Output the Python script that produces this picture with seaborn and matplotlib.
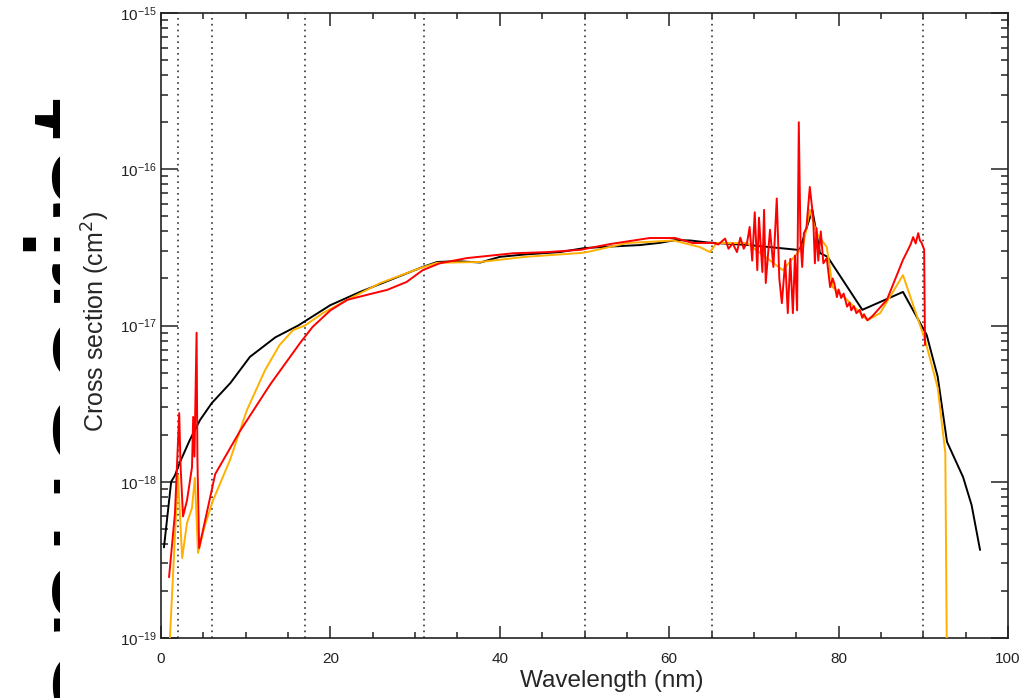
import numpy as np
import pandas as pd
import seaborn as sns
import matplotlib
matplotlib.use("Agg")
import matplotlib.pyplot as plt
from matplotlib.transforms import Bbox
from matplotlib.ticker import MultipleLocator, LogLocator

# --- data (cross sections in units of 1e-18 cm^2) ---
black_wl = [0.35, 1.2, 1.65, 2.2, 3.4, 4.6, 6.0, 8.2, 10.5, 13.5, 16.2, 20.0, 23.5,
            27.0, 30.9, 32.6, 35.0, 37.7, 40.0, 43.0, 47.1, 50.0, 53.0, 56.5, 58.9,
            60.7, 62.5, 64.5, 69.5, 75.4, 76.9, 77.8, 78.7, 82.8, 87.6, 90.4, 91.7,
            92.8, 94.7, 95.7, 96.7]
black_sigma = [0.38, 1.0, 1.1, 1.32, 1.85, 2.48, 3.19, 4.29, 6.3, 8.4, 10.0, 13.5, 16.4,
               19.5, 23.7, 25.5, 25.8, 25.3, 27.5, 28.5, 29.5, 31.3, 32.0, 32.7, 33.8,
               35.2, 35.0, 34.0, 32.7, 30.4, 55.0, 29.1, 27.5, 12.6, 16.4, 8.7, 4.7,
               1.8, 1.07, 0.71, 0.366]

orange_wl = [0.85, 2.0, 2.5, 3.07, 3.66, 4.0, 4.37, 5.2, 6.14, 8.15, 10.15, 12.3, 14.0,
             15.6, 17.0, 19.1, 22.0, 25.9, 30.6, 32.6, 37.7, 43.0, 49.5, 50.3, 55.0,
             60.5, 63.6, 64.8, 65.6, 69.2, 73.4, 75.8, 76.6, 77.4, 78.6, 79.3, 81.0,
             83.4, 84.9, 87.6, 90.2, 91.7, 92.6, 92.9]
orange_sigma = [0.06, 1.1, 0.325, 0.545, 0.68, 1.06, 0.35, 0.53, 0.76, 1.38, 2.88, 5.2,
                7.5, 9.35, 10.0, 12.0, 14.6, 18.7, 23.3, 25.2, 25.5, 27.5, 29.1, 29.5,
                33.7, 35.0, 31.8, 29.5, 33.7, 33.7, 22.6, 32.0, 55.0, 39.0, 31.8, 17.6,
                14.6, 10.8, 12.0, 21.0, 8.1, 4.0, 1.53, 0.01]

red_wl = [0.95, 1.65, 2.15, 2.3, 2.6, 3.07, 3.66, 3.8, 3.95, 4.2, 4.3, 4.5, 6.4, 9.3,
          12.9, 16.4, 17.9, 20.0, 22.0, 24.3, 26.7, 29.0, 30.9, 32.9, 36.1, 41.6, 45.6,
          49.5, 53.0, 57.7, 60.7, 62.8, 65.2, 65.8, 66.2, 66.6, 67.0, 67.5, 68.0, 68.4,
          68.8, 69.2, 69.5, 69.8, 70.1, 70.4, 70.6, 71.0, 71.2, 71.4, 71.9, 72.3, 72.7,
          73.0, 73.3, 73.7, 74.0, 74.3, 74.6, 74.85, 75.1, 75.3, 75.5, 75.7, 75.9, 76.2,
          76.6, 77.0, 77.2, 77.4, 77.6, 77.9, 78.2, 78.6, 79.0, 79.3, 79.5, 79.8, 80.0,
          80.3, 80.6, 81.0, 81.3, 81.5, 81.8, 82.1, 82.5, 82.8, 83.0, 83.4, 84.0, 85.7,
          87.6, 88.5, 88.8, 89.1, 89.4, 89.6, 89.8, 90.1, 90.2]
red_sigma = [0.245, 0.63, 2.75, 1.3, 0.6, 0.76, 1.24, 2.6, 1.45, 9.0, 1.4, 0.377, 1.12,
             2.1, 4.2, 7.7, 9.8, 12.5, 14.6, 15.7, 16.9, 19.0, 22.6, 25.0, 27.0, 29.0,
             29.5, 30.5, 33.2, 36.3, 36.3, 33.7, 33.8, 33.0, 34.5, 36.0, 31.0, 33.5, 29.5,
             36.5, 31.0, 34.0, 42.7, 26.0, 53.0, 22.6, 49.0, 22.0, 55.0, 18.7, 41.0, 23.7,
             65.0, 20.0, 13.9, 26.0, 12.0, 26.7, 12.0, 28.0, 12.5, 200.0, 35.0, 23.7, 39.0,
             42.0, 77.0, 49.0, 25.0, 42.0, 26.0, 40.0, 25.0, 27.0, 17.6, 20.0, 18.5, 15.2,
             17.0, 15.0, 16.0, 13.2, 14.0, 12.5, 13.3, 12.0, 12.6, 11.2, 11.8, 10.8, 11.5,
             14.6, 26.3, 33.0, 36.8, 33.5, 39.0, 35.0, 33.8, 30.6, 7.5]

edges = [2, 6, 17, 31, 50, 65, 90]

sns.set_style("ticks")
plt.rcParams["font.family"] = ["Liberation Sans", "DejaVu Sans"]

fig = plt.figure(figsize=(10.26, 6.98), dpi=100)
ax = fig.add_axes([161 / 1026, 60 / 698, 847 / 1026, 625 / 698])

for e in edges:
    ax.axvline(e, color="#333333", lw=1.2, ls=(0, (1, 2.5)), zorder=1)

series = [(black_wl, black_sigma, "black"),
          (orange_wl, orange_sigma, "#FFB000"),
          (red_wl, red_sigma, "#FF0000")]
for wl, sig, col in series:
    df = pd.DataFrame({"wl": wl, "sigma": np.array(sig) * 1e-18})
    sns.lineplot(data=df, x="wl", y="sigma", color=col, lw=1.4, ax=ax,
                 estimator=None, sort=False, zorder=3)

ax.set_yscale("log")
ax.set_xlim(0, 100)
ax.set_ylim(1e-19, 1e-15)
ax.xaxis.set_major_locator(MultipleLocator(20))
ax.xaxis.set_minor_locator(MultipleLocator(5))
ax.yaxis.set_major_locator(LogLocator(base=10))
ax.yaxis.set_minor_locator(LogLocator(base=10, subs=np.arange(2, 10)))

ax.tick_params(axis="both", which="both", direction="in", top=True, right=True,
               colors="#222222", labelsize=11)
ax.tick_params(axis="x", which="major", length=9, width=1.1, pad=10)
ax.tick_params(axis="x", which="minor", length=4.5, width=1.1)
ax.tick_params(axis="y", which="major", length=12, width=1.1, pad=3)
ax.tick_params(axis="y", which="minor", length=5, width=1.1)
for sp in ax.spines.values():
    sp.set_linewidth(1.2)
    sp.set_color("#222222")

ax.set_xlabel("Wavelength (nm)", fontsize=17.5)
ax.set_ylabel("Cross section (cm$^2$)", fontsize=18)
ax.xaxis.set_label_coords(0.532, -0.069)
ax.yaxis.set_label_coords(-0.077, 0.506)
ax.xaxis.label.set_va("center")
ax.yaxis.label.set_va("center")

# clipped rotated watermark on the left edge
wm = fig.text(124 / 1026, 615 / 698, "Manuscript", rotation=90, rotation_mode="anchor",
              ha="right", va="baseline", fontsize=112, family="Liberation Sans",
              color="black")
wm.set_clip_box(Bbox.from_extents(0, 0, 60, 698))
wm.set_clip_on(True)

fig.savefig("out.png", dpi=100)
